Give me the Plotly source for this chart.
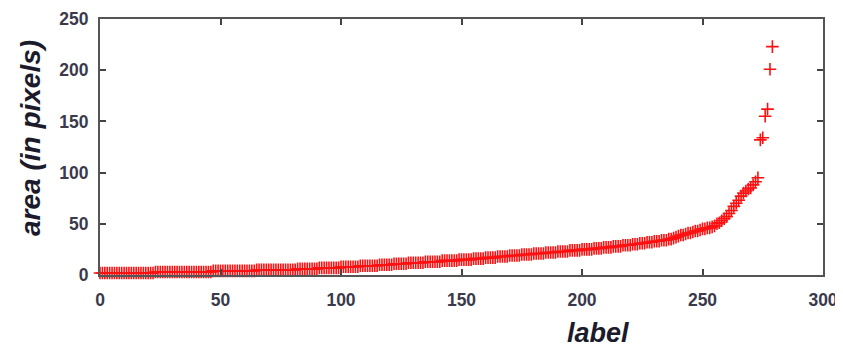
import plotly.graph_objects as go

# label index (0..279) and sorted region areas
labels = list(range(280))
areas = [
    2, 2, 2, 2, 2, 2, 2, 2, 2, 2, 2, 2, 2, 2, 2, 2, 2, 2, 2, 2, 2, 2, 2,
    3, 3, 3, 3, 3, 3, 3, 3, 3, 3, 3, 3, 3, 3, 3, 3, 3, 3, 3, 3, 3, 3, 3, 3,
    4, 4, 4, 4, 4, 4, 4, 4, 4, 4, 4, 4, 4, 4, 4, 4, 4, 4,
    5, 5, 5, 5, 5, 5, 5, 5, 5, 5, 5, 5, 5, 5, 5, 5, 5,
    6, 6, 6, 6, 6, 6, 6, 6, 6,
    7, 7, 7, 7, 7, 7, 7, 7, 7,
    8, 8, 8, 8, 8, 8, 8, 8,
    9, 9, 9, 9, 9, 9, 9, 9,
    10, 10, 10, 10, 10, 10,
    11, 11, 11, 11, 11, 11,
    12, 12, 12, 12, 12, 12, 12,
    13, 13, 13, 13, 13, 13, 13,
    14, 14, 14, 14, 14, 14, 14,
    15, 15, 15, 15, 15, 15,
    16, 16, 16, 16, 16,
    17, 17, 17, 17, 17,
    18, 18, 18, 18, 18,
    19, 19, 19, 19, 19,
    20, 20, 20, 20, 20,
    21, 21, 21, 21, 21,
    22, 22, 22, 22, 22,
    23, 23, 23, 23, 23,
    24, 24, 24, 24, 24,
    25, 25, 25, 25, 25,
    26, 26, 26, 26,
    27, 27, 27, 27,
    28, 28, 28, 28,
    29, 29, 29, 29,
    30, 30, 30,
    31, 31, 31,
    32, 32, 32,
    33, 33, 33,
    34, 34, 34,
    35, 35,
    36, 37, 38, 39, 39, 40, 41, 41, 42, 43, 43, 44, 45, 45, 46, 46, 47, 48,
    50, 51, 53, 55, 57, 60, 63, 67, 70, 73, 77, 80, 82, 84, 85, 88, 91, 95,
    132, 134, 155, 162, 201, 223,
]

x_ticks = [0, 50, 100, 150, 200, 250, 300]
y_ticks = [0, 50, 100, 150, 200, 250]

fig = go.Figure()
fig.add_trace(go.Scatter(
    x=labels, y=areas, mode="markers",
    marker=dict(symbol="cross-thin", size=9, line=dict(color="#ff1010", width=1.6)),
    showlegend=False, cliponaxis=False,
))

axis_common = dict(
    showline=True, linecolor="#555555", linewidth=2, mirror="ticks",
    ticks="inside", ticklen=6, tickwidth=1.5, tickcolor="#444444",
    showgrid=False, zeroline=False, automargin=False,
    tickfont=dict(family="Liberation Sans", size=17.5, color="#3a3a4c", weight="bold"),
)

fig.update_xaxes(range=[0, 300], tickvals=x_ticks, ticklabelstandoff=8, **axis_common)
fig.update_yaxes(range=[0, 250], tickvals=y_ticks, ticklabelstandoff=6, **axis_common)

# plot area spans page x 100..823, y 19..275 (page has an 8px body margin)
fig.add_annotation(text="<b><i>label</i></b>", xref="paper", yref="paper",
                   x=(598 - 100) / 723, y=-58 / 256, xanchor="center", yanchor="middle",
                   showarrow=False,
                   font=dict(family="Liberation Sans", size=27, color="#1b1b2b"))
fig.add_annotation(text="<b><i>area (in pixels)</i></b>", xref="paper", yref="paper",
                   x=-70 / 723, y=(275 - 138) / 256, xanchor="center", yanchor="middle",
                   textangle=-90, showarrow=False,
                   font=dict(family="Liberation Sans", size=28, color="#1b1b2b"))

fig.update_layout(
    width=835, height=339,
    margin=dict(l=92, r=20, t=11, b=72),
    plot_bgcolor="white", paper_bgcolor="white",
)

fig.write_html("out.html")
